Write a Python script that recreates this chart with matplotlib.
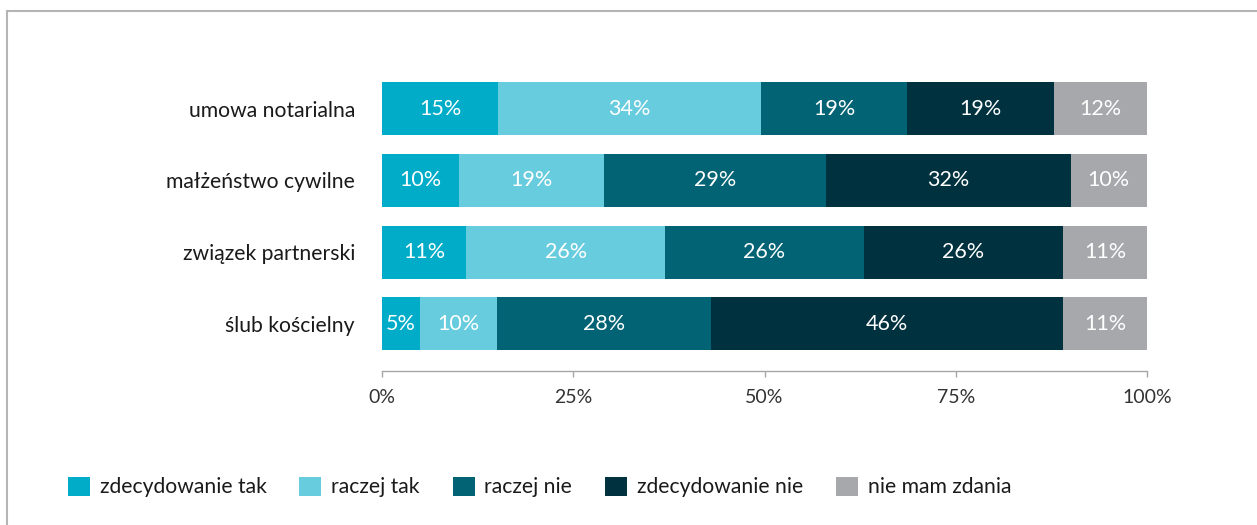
import matplotlib
matplotlib.use("Agg")
import matplotlib.pyplot as plt
from matplotlib.patches import Rectangle, Patch
import numpy as np

plt.rcParams['font.family'] = ['Lato', 'DejaVu Sans']

categories = ["umowa notarialna", "małżeństwo cywilne", "związek partnerski", "ślub kościelny"]
series_names = ["zdecydowanie tak", "raczej tak", "raczej nie", "zdecydowanie nie", "nie mam zdania"]
colors = ["#00ACC8", "#67CCDE", "#026374", "#00313F", "#A7A8AC"]
zdecydowanie_tak = [15, 10, 11, 5]
raczej_tak = [34, 19, 26, 10]
raczej_nie = [19, 29, 26, 28]
zdecydowanie_nie = [19, 32, 26, 46]
nie_mam_zdania = [12, 10, 11, 11]
xticks = [0, 25, 50, 75, 100]
xtick_labels = ["0%", "25%", "50%", "75%", "100%"]

W, H = 1257, 525
fig = plt.figure(figsize=(W / 100, H / 100), dpi=100)
fig.patch.set_facecolor("white")

# frame around the figure
fig.patches.append(Rectangle((7 / W, -0.1), 1.2, (H - 11) / H + 0.1, transform=fig.transFigure,
                             fill=False, edgecolor="#B5B5B5", linewidth=1.5))

ax = fig.add_axes([382 / W, 1 - 370.6 / H, 765 / W, 298 / H])

data = np.array([zdecydowanie_tak, raczej_tak, raczej_nie, zdecydowanie_nie, nie_mam_zdania], dtype=float)
totals = data.sum(axis=0)
shares = data / totals * 100
y = np.arange(len(categories))
left = np.zeros(len(categories))
for i, name in enumerate(series_names):
    ax.barh(y, shares[i], left=left, height=0.74, color=colors[i], label=name, linewidth=0)
    for j in range(len(categories)):
        ax.text(left[j] + shares[i][j] / 2, y[j], f"{int(data[i][j])}%", ha="center", va="center",
                color="white", fontsize=15.5)
    left += shares[i]

ax.set_ylim(3.65, -0.5)
ax.set_xlim(0, 100)
ax.set_yticks(y)
ax.set_yticklabels(categories, fontsize=15.2, color="#1A1A1A")
ax.tick_params(axis="y", length=0, pad=19.5)
ax.set_xticks(xticks)
ax.set_xticklabels(xtick_labels, fontsize=14, color="#333333")
ax.tick_params(axis="x", length=4, color="#A6A6A6", width=1, pad=9, direction="out")
for s in ["top", "right", "left"]:
    ax.spines[s].set_visible(False)
ax.spines["bottom"].set_color("#A6A6A6")
ax.spines["bottom"].set_linewidth(1)
ax.set_facecolor("none")

handles = [Patch(facecolor=c, edgecolor="none") for c in colors]
fig.legend(handles, series_names, loc="center left", bbox_to_anchor=(68 / W, 1 - 487 / H),
           ncol=5, frameon=False, fontsize=15.2, handlelength=1.04, handleheight=1.04,
           handletextpad=0.47, columnspacing=1.55, borderaxespad=0, borderpad=0,
           labelcolor="#1A1A1A")

fig.savefig("out.png", dpi=100, facecolor="white")
